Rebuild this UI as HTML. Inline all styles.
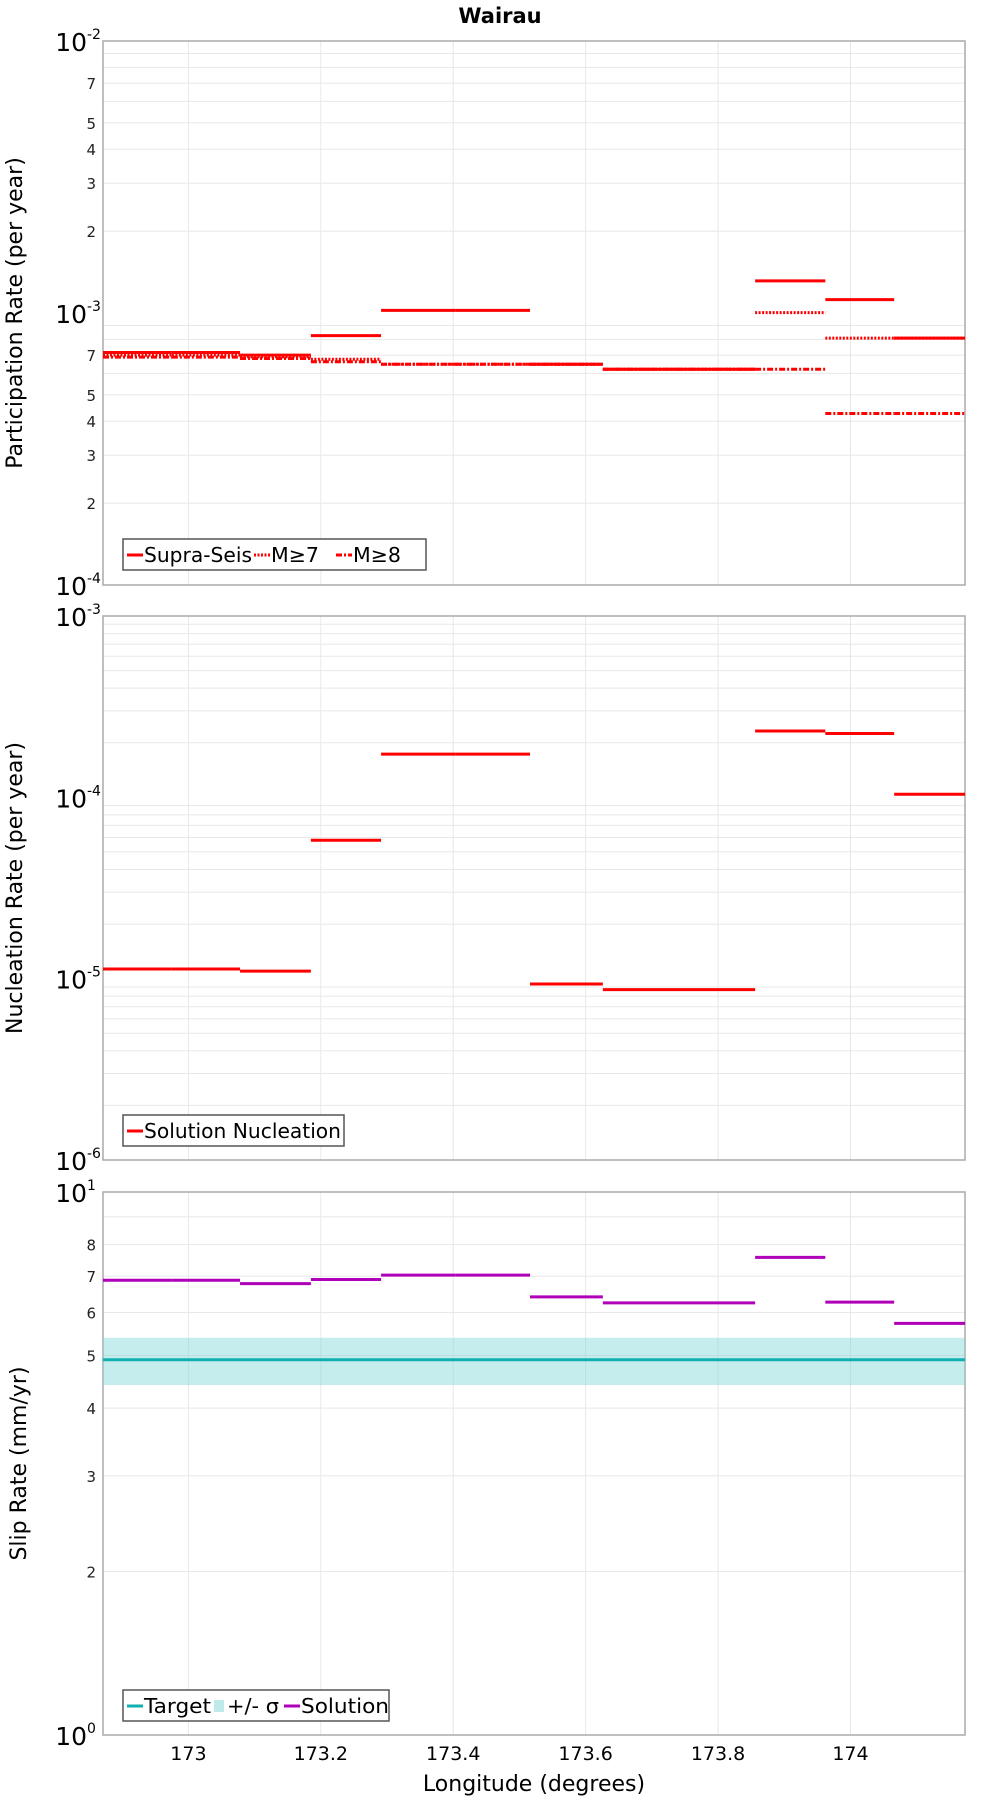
<!DOCTYPE html>
<html><head><meta charset="utf-8"><style>
html,body{margin:0;padding:0;background:#fff;}
svg{display:block;font-family:"DejaVu Sans","Liberation Sans",sans-serif;}
</style></head><body>
<svg id="chart" width="1000" height="1800" viewBox="0 0 1000 1800" xmlns="http://www.w3.org/2000/svg">
<text x="500" y="23" text-anchor="middle" font-size="21" font-weight="bold">Wairau</text>
<g id="g"></g>
</svg>
<script>
const sectionStarts = [172.871,172.975,173.078,173.185,173.291,173.404,173.516,173.626,173.738,173.856,173.962,174.066];
const sectionEnds   = [172.975,173.078,173.185,173.291,173.404,173.516,173.626,173.738,173.856,173.962,174.066,174.173];
const xTicks = [173,173.2,173.4,173.6,173.8,174];
const xTickLabels = ["173","173.2","173.4","173.6","173.8","174"];
const supraSeis = [7.16e-4,7.16e-4,7.0e-4,8.26e-4,1.023e-3,1.023e-3,6.48e-4,6.21e-4,6.21e-4,1.313e-3,1.12e-3,8.08e-4];
const m7 = [7.0e-4,7.0e-4,6.9e-4,6.76e-4,6.48e-4,6.48e-4,6.48e-4,6.21e-4,6.21e-4,1.003e-3,8.08e-4,8.08e-4];
const m8 = [6.88e-4,6.88e-4,6.8e-4,6.62e-4,6.48e-4,6.48e-4,6.48e-4,6.21e-4,6.21e-4,6.21e-4,4.27e-4,4.27e-4];
const nucleation = [1.13e-5,1.13e-5,1.10e-5,5.8e-5,1.73e-4,1.73e-4,9.35e-6,8.7e-6,8.7e-6,2.32e-4,2.25e-4,1.04e-4];
const slipSolution = [6.88,6.88,6.78,6.90,7.03,7.03,6.41,6.25,6.25,7.58,6.27,5.73];
const slipTarget = [4.91];
const slipSigmaLow = [4.41];
const slipSigmaHigh = [5.39];

const NS="http://www.w3.org/2000/svg";
const g=document.getElementById('g');
function mk(tag,attrs,parent){const e=document.createElementNS(NS,tag);for(const k in attrs)e.setAttribute(k,attrs[k]);(parent||g).appendChild(e);return e;}
const X0=103,X1=965,LON0=172.871,LON1=174.173;
function xs(v){return X0+(v-LON0)/(LON1-LON0)*(X1-X0);}
function mkY(top,bot,lmin,lmax){return v=>bot-(Math.log10(v)-lmin)/(lmax-lmin)*(bot-top);}

function panel(name,top,bot,lmin,lmax,minorLabels,yTitle,titleX){
  const y=mkY(top,bot,lmin,lmax);
  for(let d=lmin;d<lmax;d++){for(let m=2;m<=9;m++){const yy=y(m*Math.pow(10,d));
    const l=mk('line',{x1:X0,x2:X1,y1:yy,y2:yy,stroke:'#e8e8e8','stroke-width':1});
    
    
    if(minorLabels.indexOf(m)>=0){const t=mk('text',{x:96,y:yy+6,'text-anchor':'end','font-size':15,fill:'#222'});t.textContent=m;
      
      }
  }}
  xTicks.forEach(v=>{const l=mk('line',{x1:xs(v),x2:xs(v),y1:top,y2:bot,stroke:'#e8e8e8','stroke-width':1});
    
    });
  for(let d=lmin;d<=lmax;d++){const yy=y(Math.pow(10,d));
    const t=mk('text',{x:87,y:yy+10,'text-anchor':'end','font-size':25});t.textContent='10';
    
    
    const s=mk('text',{x:87,y:yy-2,'text-anchor':'start','font-size':14});s.textContent=String(d);
    
    }
  const r=mk('rect',{x:X0,y:top,width:X1-X0,height:bot-top,fill:'none',stroke:'#aaa','stroke-width':1.5});
  
  
  const tt=mk('text',{x:0,y:0,'text-anchor':'middle','font-size':22,transform:`translate(${titleX},${(top+bot)/2}) rotate(-90)`});tt.textContent=yTitle;
  
  
  return y;
}
function steps(name,vals,y,color,dash,w){
  vals.forEach((v,i)=>{
    const l=mk('line',{x1:xs(sectionStarts[i]),x2:xs(sectionEnds[i]),y1:y(v),y2:y(v),stroke:color,'stroke-width':w||3});
    if(dash)l.setAttribute('stroke-dasharray',dash);
    
    });
}
function legend(name,x,y,w,items){
  const r=mk('rect',{x:x,y:y,width:w,height:31,fill:'#fff',stroke:'#555','stroke-width':1.5});
  
  
  let cx=x+4;
  items.forEach(it=>{
    if(it.box){const b=mk('rect',{x:cx,y:y+10,width:10,height:12,fill:it.color});cx+=13;}
    else{const l=mk('line',{x1:cx,x2:cx+16,y1:y+16,y2:y+16,stroke:it.color,'stroke-width':3});if(it.dash)l.setAttribute('stroke-dasharray',it.dash);
      cx+=17;}
    const t=mk('text',{x:cx,y:y+23,'font-size':20,textLength:it.tl,lengthAdjust:'spacingAndGlyphs'});t.textContent=it.label;
    
    
    cx+=it.w;
  });
}
const y1=panel('participation',41,585,-4,-2,[2,3,4,5,7],'Participation Rate (per year)',22);
steps('supra-seis',supraSeis,y1,'#ff0000',null,3);
steps('m7',m7,y1,'#ff0000','2,1.5',3);
steps('m8',m8,y1,'#ff0000','6,2,2,2',3);
legend('participation-legend',123,539,303,[{label:'Supra-Seis',color:'#f00',w:110,tl:108},{label:'M≥7',color:'#f00',dash:'2,1.5',w:65,tl:48},{label:'M≥8',color:'#f00',dash:'6,2,2,2',w:50,tl:48}]);
const y2=panel('nucleation',616,1160,-6,-3,[],'Nucleation Rate (per year)',22);
steps('nucleation',nucleation,y2,'#ff0000',null,3);
legend('nucleation-legend',123,1115,221,[{label:'Solution Nucleation',color:'#f00',w:200,tl:197}]);
const y3=panel('slip',1192,1735,0,1,[2,3,4,5,6,7,8],'Slip Rate (mm/yr)',26);
const band=mk('rect',{x:X0,y:y3(slipSigmaHigh[0]),width:X1-X0,height:y3(slipSigmaLow[0])-y3(slipSigmaHigh[0]),fill:'#7fd8d8','fill-opacity':0.45});


const tl=mk('line',{x1:X0,x2:X1,y1:y3(slipTarget[0]),y2:y3(slipTarget[0]),stroke:'#10b0b0','stroke-width':3});


steps('slip-solution',slipSolution,y3,'#b000b8',null,3);
legend('slip-legend',123,1690,266,[{label:'Target',color:'#10b0b0',w:70,tl:67},{label:'+/- σ',color:'#bfeaea',box:true,w:57,tl:52},{label:'Solution',color:'#b000b8',w:90,tl:88}]);
xTicks.forEach((v,i)=>{const t=mk('text',{x:xs(v),y:1760,'text-anchor':'middle','font-size':19});t.textContent=xTickLabels[i];
  
  });
const xt=mk('text',{x:534,y:1791,'text-anchor':'middle','font-size':22});xt.textContent='Longitude (degrees)';


</script>
</body></html>
